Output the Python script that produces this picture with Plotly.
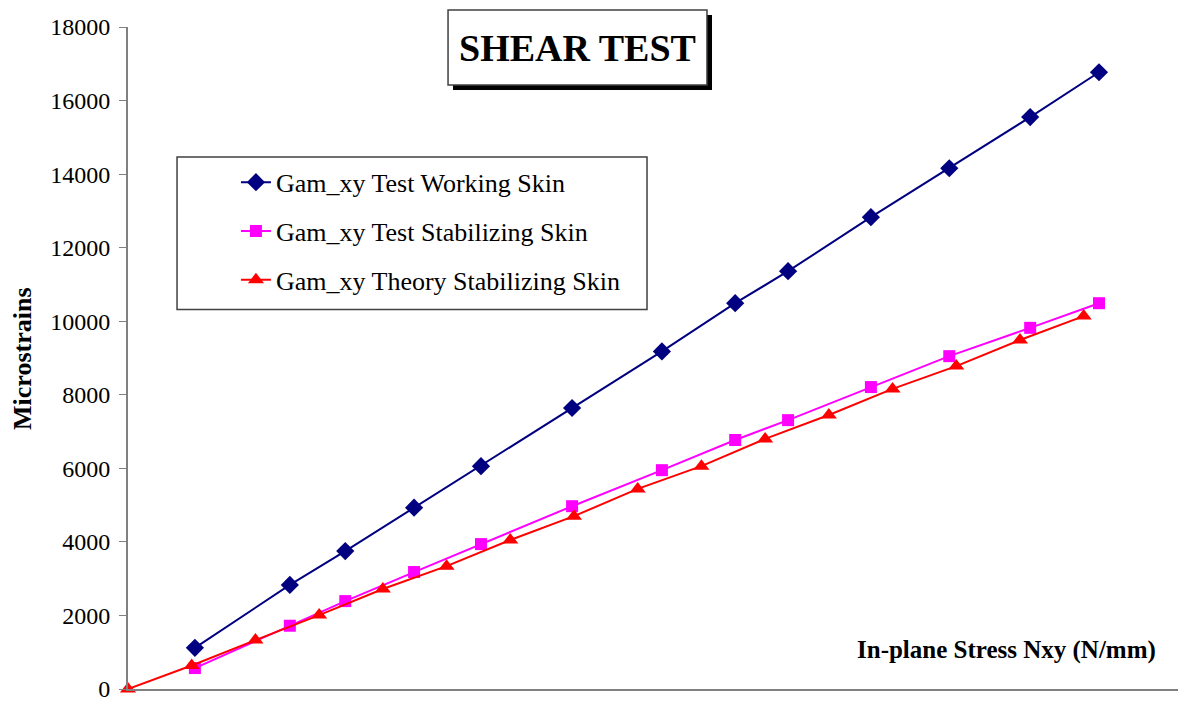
"""Shear test: measured and theoretical shear strain vs in-plane stress."""
import plotly.graph_objects as go

# in-plane stress Nxy (N/mm) and strain readings (microstrains)
nxy_test = [10.5, 25.4, 34.1, 44.9, 55.4, 69.7, 83.8, 95.3, 103.6, 116.6, 128.9, 141.6, 152.4]
gam_working = [1120, 2830, 3750, 4930, 6060, 7640, 9180, 10490, 11360, 12830, 14160, 15550, 16770]
gam_stabilizing = [570, 1720, 2390, 3180, 3940, 4970, 5950, 6770, 7310, 8210, 9050, 9820, 10490]

nxy_theory = [0, 10, 20, 30, 40, 50, 60, 70, 80, 90, 100, 110, 120, 130, 140, 150]
gam_theory = [0, 640, 1330, 2010, 2720, 3340, 4050, 4700, 5440, 6060, 6800, 7450, 8160, 8780, 9490, 10140]

FONT = "Liberation Serif"
AXIS_GREY = "#808080"

series = [
    ("Gam_xy Test Working Skin", nxy_test, gam_working, "#000080", "diamond", 14),
    ("Gam_xy Test Stabilizing Skin", nxy_test, gam_stabilizing, "#FF00FF", "square", 12),
    ("Gam_xy Theory Stabilizing Skin", nxy_theory, gam_theory, "#FF0000", "triangle-up", 14),
]

fig = go.Figure()
for name, x, y, color, symbol, size in series:
    fig.add_trace(go.Scatter(
        x=x, y=y, mode="lines+markers", name=name, legendgroup=name,
        line=dict(color=color, width=2),
        marker=dict(symbol=symbol, size=size, color=color),
        cliponaxis=False,
    ))

fig.update_layout(
    width=1182, height=702,
    margin=dict(l=128, r=4, t=27, b=13, autoexpand=False),
    paper_bgcolor="white", plot_bgcolor="white",
    font=dict(family=FONT, color="black"),
    showlegend=True,
    legend=dict(
        x=0.1028, y=0.801, xanchor="left", yanchor="top",
        font=dict(family=FONT, size=26, color="black"),
        bgcolor="rgba(0,0,0,0)", borderwidth=0,
        tracegroupgap=12,
    ),
)
fig.update_xaxes(
    range=[0, 164.8], showgrid=False, zeroline=False,
    showline=True, linecolor=AXIS_GREY, linewidth=2,
    showticklabels=False, ticks="",
)
fig.update_yaxes(
    range=[0, 18000], dtick=2000, tickformat="d", showgrid=False, zeroline=False,
    showline=True, linecolor=AXIS_GREY, linewidth=2,
    ticks="outside", ticklen=7, tickcolor=AXIS_GREY, tickwidth=1,
    ticklabelstandoff=4, ticklabeloverflow="allow",
    tickfont=dict(family=FONT, size=24, color="black"),
)

# legend frame, title box with drop shadow
fig.add_shape(type="rect", xref="paper", yref="paper",
              x0=0.0467, x1=0.4943, y0=0.5733, y1=0.8036,
              line=dict(color="#404040", width=1.5), fillcolor="rgba(0,0,0,0)", layer="below")
fig.add_shape(type="rect", xref="paper", yref="paper",
              x0=0.3095, x1=0.5562, y0=0.9049, y1=1.0182,
              line=dict(width=0), fillcolor="black")
fig.add_shape(type="rect", xref="paper", yref="paper",
              x0=0.3048, x1=0.5514, y0=0.9124, y1=1.0257,
              line=dict(color="#404040", width=1.5), fillcolor="white")

fig.add_annotation(text="<b>SHEAR TEST</b>", xref="paper", yref="paper",
                   x=0.4281, y=0.969, xanchor="center", yanchor="middle",
                   showarrow=False, font=dict(family=FONT, size=38, color="black"))
fig.add_annotation(text="<b>Microstrains</b>", xref="paper", yref="paper",
                   x=-0.101, y=0.5, xanchor="center", yanchor="middle", textangle=-90,
                   showarrow=False, font=dict(family=FONT, size=26, color="black"))
fig.add_annotation(text="<b>In-plane Stress Nxy (N/mm)</b>", xref="paper", yref="paper",
                   x=0.981, y=0.0589, xanchor="right", yanchor="middle",
                   showarrow=False, font=dict(family=FONT, size=25, color="black"))

fig.write_html("out.html", config={"displayModeBar": False},
               post_script="document.body.style.margin='0';")
